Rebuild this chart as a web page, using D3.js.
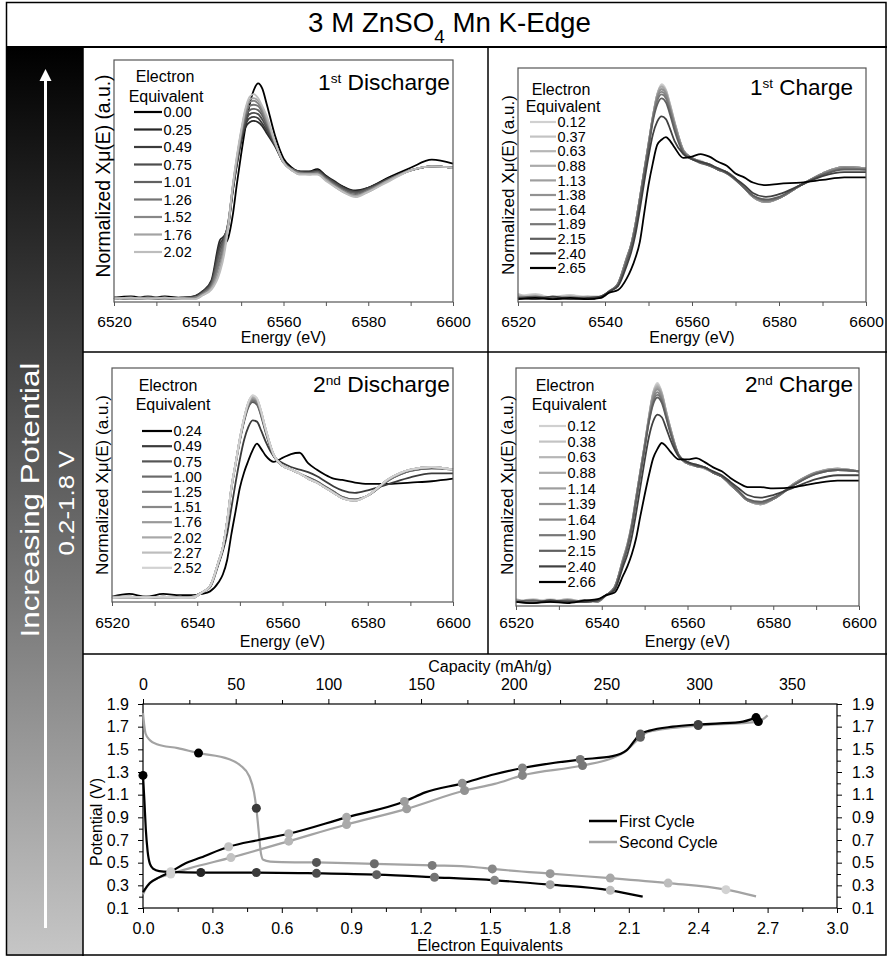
<!DOCTYPE html>
<html><head><meta charset="utf-8">
<script src="https://cdn.jsdelivr.net/npm/d3@7/dist/d3.min.js"></script>
<style>
html,body{margin:0;padding:0;background:#fff;}
svg{display:block;}
text{font-family:"Liberation Sans",Arial,sans-serif;fill:#000;}
</style></head>
<body>
<svg id="fig" width="887" height="956"></svg>
<script>
// ---------- XANES spectra: energy grid (eV) ----------
const energyEV = [6520,6524,6528,6532,6536,6539,6541,6543,6545,6546,6547,6548,6549,6550,6551,6552,6553,6554,6555,6556,6558,6560,6562,6564,6566,6568,6570,6572,6574,6577,6580,6585,6590,6595,6600];
const energyTicks = [6520,6540,6560,6580,6600];
const energyMinorTicks = [6530,6550,6570,6590];

// 1st discharge
const discharge1Labels = ["0.00","0.25","0.49","0.75","1.01","1.26","1.52","1.76","2.02"];
const discharge1Spectra = [
 [0.01,0.02,0.00,0.02,0.01,0.02, 0.05,0.09,0.30,0.40,0.46,0.62,0.86,1.08,1.28,1.45,1.56,1.61,1.57,1.46,1.22,1.05,0.98,0.95,0.95,0.97,0.92,0.87,0.84,0.80,0.83,0.91,0.98,1.04,1.01],
 [0.01,0.00,0.02,0.00,0.01,0.02, 0.06,0.14,0.44,0.47,0.55,0.80,1.00,1.17,1.28,1.32,1.33,1.32,1.29,1.24,1.14,1.02,0.97,0.95,0.95,0.96,0.92,0.88,0.84,0.81,0.83,0.90,0.96,0.99,0.98],
 [0.00,0.01,0.00,0.01,0.00,0.02, 0.06,0.13,0.41,0.46,0.56,0.80,1.01,1.19,1.30,1.35,1.36,1.35,1.31,1.26,1.15,1.02,0.97,0.95,0.95,0.96,0.91,0.87,0.83,0.80,0.83,0.90,0.96,0.99,0.98],
 [0.01,0.00,0.01,0.00,0.01,0.01, 0.05,0.12,0.38,0.45,0.57,0.81,1.02,1.20,1.32,1.38,1.39,1.38,1.34,1.28,1.15,1.02,0.97,0.95,0.94,0.95,0.91,0.87,0.83,0.80,0.82,0.90,0.96,0.99,0.98],
 [0.00,0.01,0.00,0.00,0.01,0.01, 0.05,0.11,0.35,0.44,0.58,0.82,1.03,1.22,1.35,1.41,1.42,1.41,1.37,1.30,1.16,1.02,0.97,0.94,0.94,0.95,0.90,0.86,0.82,0.79,0.82,0.89,0.96,0.99,0.98],
 [0.01,0.00,0.01,0.01,0.00,0.01, 0.04,0.10,0.31,0.42,0.58,0.83,1.04,1.23,1.37,1.44,1.45,1.44,1.39,1.32,1.16,1.02,0.97,0.94,0.94,0.94,0.90,0.85,0.81,0.78,0.81,0.89,0.96,0.99,0.98],
 [0.00,0.01,0.00,0.01,0.00,0.01, 0.04,0.09,0.27,0.39,0.57,0.83,1.05,1.24,1.39,1.47,1.48,1.46,1.41,1.33,1.17,1.02,0.96,0.94,0.93,0.94,0.89,0.85,0.81,0.77,0.81,0.89,0.96,0.99,0.98],
 [0.01,0.00,0.01,0.00,0.01,0.00, 0.03,0.08,0.23,0.36,0.56,0.84,1.06,1.25,1.41,1.49,1.50,1.48,1.43,1.35,1.17,1.02,0.96,0.93,0.93,0.93,0.89,0.84,0.80,0.77,0.80,0.89,0.96,0.99,0.98],
 [0.00,0.01,0.00,0.01,0.00,0.00, 0.03,0.07,0.20,0.33,0.55,0.84,1.07,1.26,1.42,1.51,1.53,1.50,1.44,1.37,1.17,1.02,0.96,0.93,0.93,0.93,0.88,0.84,0.80,0.76,0.80,0.88,0.96,0.99,0.98]
];

// 1st charge
const charge1Labels = ["0.12","0.37","0.63","0.88","1.13","1.38","1.64","1.89","2.15","2.40","2.65"];
const charge1Spectra = [
 [0.02,0.04,0.01,0.03,0.02,0.02, 0.06,0.12,0.32,0.42,0.58,0.78,0.99,1.20,1.41,1.58,1.66,1.62,1.50,1.37,1.15,1.09,1.06,1.04,1.00,0.98,0.93,0.86,0.79,0.75,0.78,0.88,0.97,1.02,1.01],
 [0.04,0.01,0.02,0.03,0.01,0.02, 0.06,0.12,0.32,0.42,0.58,0.78,0.99,1.20,1.41,1.58,1.65,1.61,1.50,1.37,1.15,1.08,1.07,1.03,1.01,0.97,0.93,0.86,0.79,0.75,0.78,0.88,0.97,1.02,1.01],
 [0.01,0.03,0.00,0.02,0.01,0.02, 0.06,0.12,0.32,0.42,0.58,0.78,0.99,1.20,1.41,1.58,1.64,1.61,1.49,1.36,1.15,1.09,1.05,1.04,1.00,0.98,0.92,0.86,0.79,0.75,0.78,0.88,0.97,1.02,1.01],
 [0.03,0.01,0.02,0.01,0.00,0.02, 0.06,0.12,0.32,0.42,0.58,0.78,0.99,1.20,1.41,1.58,1.64,1.60,1.49,1.36,1.15,1.09,1.06,1.03,1.01,0.98,0.93,0.86,0.79,0.75,0.78,0.88,0.97,1.02,1.01],
 [0.00,0.02,0.01,0.00,0.02,0.02, 0.06,0.12,0.32,0.42,0.58,0.78,0.99,1.20,1.41,1.57,1.62,1.59,1.48,1.36,1.15,1.08,1.06,1.04,1.00,0.97,0.93,0.86,0.79,0.75,0.78,0.88,0.97,1.02,1.01],
 [0.01,0.02,0.00,0.01,0.02,0.01, 0.06,0.12,0.32,0.42,0.58,0.78,0.99,1.19,1.40,1.56,1.62,1.59,1.47,1.35,1.15,1.09,1.06,1.04,1.00,0.98,0.93,0.86,0.79,0.75,0.78,0.88,0.97,1.02,1.01],
 [0.02,0.00,0.01,0.02,0.00,0.02, 0.06,0.12,0.31,0.42,0.57,0.77,0.98,1.19,1.40,1.55,1.60,1.57,1.46,1.34,1.14,1.09,1.06,1.04,1.00,0.98,0.93,0.86,0.79,0.76,0.78,0.88,0.97,1.01,1.00],
 [0.00,0.01,0.02,0.00,0.01,0.01, 0.06,0.12,0.31,0.41,0.57,0.77,0.98,1.18,1.39,1.53,1.58,1.55,1.45,1.33,1.14,1.09,1.06,1.03,1.00,0.98,0.93,0.86,0.80,0.76,0.78,0.88,0.96,1.01,1.00],
 [0.01,0.02,0.00,0.01,0.00,0.02, 0.06,0.11,0.29,0.40,0.55,0.75,0.96,1.16,1.37,1.50,1.55,1.52,1.42,1.30,1.13,1.08,1.05,1.03,1.00,0.97,0.92,0.86,0.80,0.77,0.79,0.88,0.96,1.00,1.00],
 [0.01,0.00,0.02,0.00,0.01,0.02, 0.06,0.10,0.26,0.36,0.50,0.69,0.90,1.10,1.27,1.37,1.41,1.39,1.31,1.22,1.12,1.08,1.06,1.04,1.01,0.98,0.93,0.88,0.82,0.79,0.81,0.88,0.95,0.98,0.98],
 [0.00,0.01,0.00,0.01,0.00,0.01, 0.05,0.07,0.16,0.23,0.32,0.44,0.66,0.88,1.05,1.19,1.23,1.25,1.22,1.17,1.09,1.10,1.12,1.10,1.06,1.03,0.97,0.94,0.90,0.88,0.89,0.90,0.92,0.94,0.94]
];

// 2nd discharge
const discharge2Labels = ["0.24","0.49","0.75","1.00","1.25","1.51","1.76","2.02","2.27","2.52"];
const discharge2Spectra = [
 [0.02,0.04,0.02,0.04,0.03,0.03, 0.04,0.06,0.13,0.19,0.30,0.50,0.68,0.86,0.98,1.07,1.15,1.20,1.16,1.11,1.06,1.09,1.12,1.13,1.05,1.00,0.96,0.93,0.92,0.90,0.89,0.89,0.90,0.91,0.93],
 [0.01,0.02,0.01,0.02,0.01,0.02, 0.05,0.09,0.27,0.37,0.50,0.70,0.90,1.08,1.23,1.33,1.38,1.37,1.30,1.22,1.10,1.05,1.02,1.00,0.98,0.95,0.91,0.87,0.84,0.82,0.84,0.89,0.94,0.97,0.97],
 [0.01,0.01,0.02,0.01,0.01,0.02, 0.05,0.10,0.29,0.40,0.60,0.85,1.04,1.22,1.37,1.48,1.52,1.50,1.41,1.29,1.10,1.03,1.00,0.97,0.94,0.91,0.87,0.83,0.79,0.77,0.80,0.92,0.99,1.01,1.00],
 [0.02,0.01,0.01,0.02,0.01,0.01, 0.05,0.10,0.29,0.40,0.60,0.85,1.04,1.23,1.38,1.49,1.53,1.51,1.42,1.30,1.10,1.03,1.00,0.97,0.94,0.91,0.87,0.83,0.79,0.77,0.80,0.92,0.99,1.01,1.00],
 [0.01,0.02,0.01,0.01,0.02,0.01, 0.05,0.10,0.29,0.40,0.60,0.85,1.05,1.23,1.39,1.50,1.54,1.52,1.43,1.31,1.11,1.03,1.00,0.97,0.93,0.90,0.86,0.82,0.78,0.76,0.80,0.92,1.00,1.02,1.00],
 [0.02,0.01,0.02,0.01,0.01,0.02, 0.05,0.10,0.29,0.40,0.60,0.86,1.05,1.24,1.39,1.51,1.55,1.53,1.44,1.31,1.11,1.03,1.00,0.97,0.93,0.90,0.86,0.82,0.78,0.76,0.80,0.93,1.00,1.02,1.00],
 [0.01,0.01,0.01,0.02,0.01,0.01, 0.05,0.10,0.29,0.40,0.60,0.86,1.05,1.24,1.40,1.51,1.55,1.54,1.44,1.32,1.11,1.03,1.00,0.97,0.93,0.90,0.86,0.82,0.78,0.76,0.80,0.93,1.00,1.02,1.00],
 [0.02,0.02,0.01,0.01,0.02,0.01, 0.05,0.10,0.29,0.40,0.60,0.86,1.05,1.24,1.40,1.52,1.56,1.54,1.45,1.32,1.11,1.03,1.00,0.97,0.93,0.90,0.86,0.82,0.78,0.76,0.80,0.93,1.00,1.02,1.00],
 [0.01,0.01,0.02,0.01,0.01,0.02, 0.05,0.10,0.29,0.40,0.60,0.86,1.05,1.24,1.40,1.52,1.57,1.55,1.45,1.32,1.11,1.03,1.00,0.97,0.93,0.90,0.86,0.82,0.78,0.76,0.80,0.93,1.00,1.02,1.00],
 [0.01,0.02,0.01,0.02,0.01,0.01, 0.05,0.10,0.29,0.40,0.60,0.86,1.05,1.24,1.40,1.52,1.575,1.55,1.45,1.32,1.11,1.03,1.00,0.97,0.93,0.90,0.86,0.82,0.78,0.76,0.80,0.93,1.00,1.02,1.00]
];

// 2nd charge
const charge2Labels = ["0.12","0.38","0.63","0.88","1.14","1.39","1.64","1.90","2.15","2.40","2.66"];
const charge2Spectra = [
 [0.02,0.01,0.03,0.01,0.02,0.02, 0.06,0.12,0.34,0.45,0.60,0.80,1.00,1.20,1.42,1.60,1.67,1.60,1.46,1.33,1.12,1.06,1.04,1.03,0.99,0.96,0.90,0.84,0.78,0.75,0.79,0.91,0.995,1.02,1.00],
 [0.01,0.03,0.01,0.02,0.01,0.02, 0.06,0.12,0.34,0.45,0.60,0.80,1.00,1.20,1.42,1.60,1.66,1.60,1.46,1.33,1.12,1.06,1.05,1.02,0.99,0.96,0.90,0.84,0.78,0.75,0.79,0.91,0.99,1.02,1.00],
 [0.03,0.01,0.02,0.01,0.02,0.02, 0.06,0.12,0.34,0.45,0.60,0.80,1.00,1.20,1.41,1.59,1.65,1.59,1.46,1.33,1.12,1.06,1.04,1.03,0.99,0.96,0.90,0.84,0.78,0.75,0.79,0.91,0.99,1.02,1.00],
 [0.01,0.02,0.01,0.03,0.01,0.02, 0.06,0.12,0.34,0.45,0.60,0.80,1.00,1.20,1.41,1.59,1.64,1.59,1.45,1.33,1.12,1.07,1.04,1.03,0.99,0.96,0.90,0.84,0.78,0.75,0.79,0.91,0.99,1.02,1.00],
 [0.02,0.01,0.02,0.01,0.02,0.01, 0.06,0.12,0.33,0.44,0.59,0.79,1.00,1.20,1.41,1.58,1.63,1.58,1.45,1.32,1.12,1.06,1.04,1.02,0.99,0.96,0.90,0.84,0.78,0.75,0.79,0.91,0.99,1.02,1.00],
 [0.01,0.02,0.01,0.02,0.01,0.02, 0.06,0.12,0.33,0.44,0.59,0.79,1.00,1.19,1.40,1.57,1.62,1.57,1.44,1.32,1.12,1.06,1.04,1.03,0.99,0.96,0.90,0.84,0.78,0.76,0.79,0.91,0.99,1.01,1.00],
 [0.02,0.01,0.02,0.01,0.01,0.02, 0.06,0.12,0.33,0.44,0.59,0.79,0.99,1.19,1.39,1.55,1.60,1.55,1.43,1.31,1.12,1.07,1.04,1.03,0.99,0.96,0.90,0.84,0.78,0.76,0.79,0.90,0.99,1.01,1.00],
 [0.01,0.01,0.02,0.01,0.02,0.01, 0.06,0.12,0.32,0.43,0.58,0.78,0.98,1.18,1.38,1.53,1.58,1.54,1.42,1.30,1.12,1.06,1.05,1.03,0.99,0.96,0.90,0.84,0.78,0.76,0.79,0.90,0.98,1.01,1.00],
 [0.01,0.02,0.01,0.02,0.01,0.02, 0.06,0.11,0.31,0.42,0.57,0.77,0.97,1.17,1.37,1.51,1.56,1.52,1.41,1.29,1.12,1.07,1.04,1.03,0.99,0.96,0.91,0.85,0.79,0.77,0.80,0.90,0.98,1.01,1.00],
 [0.01,0.00,0.02,0.01,0.01,0.02, 0.06,0.10,0.28,0.37,0.50,0.68,0.88,1.08,1.26,1.38,1.43,1.41,1.33,1.24,1.11,1.07,1.05,1.03,1.00,0.97,0.92,0.87,0.82,0.80,0.82,0.88,0.94,0.97,0.97],
 [0.01,0.00,0.01,0.00,0.02,0.03, 0.06,0.08,0.21,0.28,0.37,0.49,0.66,0.82,0.97,1.10,1.17,1.215,1.19,1.15,1.09,1.09,1.10,1.07,1.03,1.00,0.95,0.91,0.88,0.88,0.87,0.88,0.91,0.93,0.93]
];

// ---------- cycling curve: electron equivalents vs potential (V) ----------
const cycle1DischargeE = [0,0.006,0.012,0.02,0.03,0.045,0.07,0.12,0.25,0.49,0.75,1.01,1.26,1.52,1.76,2.02,2.16];
const cycle1DischargeV = [1.27,1.05,0.80,0.60,0.49,0.445,0.425,0.418,0.413,0.413,0.406,0.394,0.371,0.344,0.306,0.256,0.20];
const cycle1ChargeE = [0,0.03,0.07,0.12,0.18,0.25,0.37,0.50,0.63,0.88,1.13,1.22,1.38,1.52,1.64,1.89,2.03,2.09,2.15,2.19,2.29,2.40,2.58,2.65];
const cycle1ChargeV = [0.24,0.32,0.37,0.42,0.49,0.545,0.64,0.70,0.755,0.90,1.04,1.12,1.20,1.28,1.335,1.41,1.44,1.49,1.635,1.665,1.70,1.72,1.74,1.78];
const cycle2DischargeE = [0,0.005,0.011,0.03,0.06,0.15,0.24,0.37,0.42,0.46,0.48,0.49,0.50,0.51,0.52,0.55,0.60,0.75,1.00,1.25,1.43,1.51,1.76,2.02,2.27,2.52,2.65];
const cycle2DischargeV = [1.82,1.72,1.64,1.58,1.545,1.51,1.467,1.415,1.36,1.26,1.12,0.98,0.78,0.58,0.525,0.51,0.505,0.502,0.49,0.476,0.462,0.445,0.403,0.364,0.32,0.262,0.203];
const cycle2ChargeE = [0,0.02,0.05,0.12,0.20,0.38,0.63,0.88,1.14,1.39,1.52,1.64,1.90,2.03,2.08,2.15,2.18,2.29,2.40,2.66,2.70];
const cycle2ChargeV = [0.22,0.30,0.35,0.40,0.45,0.545,0.69,0.837,0.975,1.137,1.195,1.27,1.357,1.424,1.474,1.606,1.65,1.689,1.71,1.745,1.80];

// potential at which each spectrum was collected
const discharge1MarkerV = [1.27,0.413,0.413,0.406,0.394,0.371,0.344,0.306,0.256];
const charge1MarkerV = [0.42,0.64,0.755,0.90,1.04,1.20,1.335,1.41,1.635,1.72,1.78];
const discharge2MarkerV = [1.467,0.98,0.502,0.49,0.476,0.445,0.403,0.364,0.32,0.262];
const charge2MarkerV = [0.40,0.545,0.69,0.837,0.975,1.137,1.27,1.357,1.606,1.71,1.745];

const potentialTicks = [0.1,0.3,0.5,0.7,0.9,1.1,1.3,1.5,1.7,1.9];
const potentialMinorTicks = [0.2,0.4,0.6,0.8,1.0,1.2,1.4,1.6,1.8];
const equivTicks = [0,0.3,0.6,0.9,1.2,1.5,1.8,2.1,2.4,2.7,3.0];
const equivMinorTicks = [0.15,0.45,0.75,1.05,1.35,1.65,1.95,2.25,2.55,2.85];
const capacityTicks = [0,50,100,150,200,250,300,350];
const capacityMinorTicks = [25,75,125,175,225,275,325];
const capacityPerElectron = 124.8; // mAh/g per electron equivalent

// ---------- grey shades for each series ----------
const discharge1Colors = ["#000000","#262626","#3b3b3b","#4d4d4d","#616161","#737373","#878787","#a3a3a3","#bdbdbd"];
const charge1Colors = ["#d0d0d0","#c3c3c3","#b6b6b6","#aaaaaa","#9e9e9e","#929292","#858585","#777777","#5f5f5f","#404040","#000000"];
const discharge2Colors = ["#000000","#3a3a3a","#555555","#6a6a6a","#7a7a7a","#888888","#999999","#a8a8a8","#bdbdbd","#d2d2d2"];
const charge2Colors = ["#d0d0d0","#c3c3c3","#b6b6b6","#aaaaaa","#9e9e9e","#929292","#858585","#777777","#5f5f5f","#404040","#000000"];

const SANS = '"Liberation Sans", Arial, sans-serif';
const HUMANIST = 'Lato, "Open Sans", "Noto Sans", sans-serif';
const svg = d3.select("#fig");

function fitLength(sel, target) {
  const w = sel.node().getComputedTextLength();
  const fs = parseFloat(sel.attr("font-size"));
  sel.attr("font-size", (fs * target / w).toFixed(2));
}
// stretch a rotated label along its reading direction to a given length
function stretchRotated(sel, cx, cy, target) {
  const w = sel.node().getComputedTextLength();
  sel.attr("transform", `translate(${cx},${cy}) rotate(-90) scale(${(target / w).toFixed(3)},1)`);
}

svg.append("rect").attr("width", 887).attr("height", 956).attr("fill", "#fff");

// ---------- left potential bar ----------
const defs = svg.append("defs");
const grad = defs.append("linearGradient").attr("id", "potGrad")
  .attr("x1", 0).attr("y1", 0).attr("x2", 0).attr("y2", 1);
grad.append("stop").attr("offset", "0%").attr("stop-color", "#000");
grad.append("stop").attr("offset", "100%").attr("stop-color", "#c6c6c6");
svg.append("rect").attr("x", 7).attr("y", 47).attr("width", 76).attr("height", 909).attr("fill", "url(#potGrad)");
svg.append("line").attr("x1", 45.5).attr("x2", 45.5).attr("y1", 78).attr("y2", 928)
  .attr("stroke", "#fff").attr("stroke-width", 3);
svg.append("path").attr("d", "M45.5,69 L39.5,81 L51.5,81 Z").attr("fill", "#fff");

const incText = svg.append("text").attr("text-anchor", "middle").attr("font-size", 25)
  .style("fill", "#fff").text("Increasing Potential");
stretchRotated(incText, 39, 500, 275);
const rangeText = svg.append("text").attr("text-anchor", "middle").attr("font-size", 22)
  .style("fill", "#fff").text("0.2-1.8 V");
stretchRotated(rangeText, 74, 503, 105);

// ---------- title ----------
const title = svg.append("text").attr("x", 449.5).attr("y", 32).attr("text-anchor", "middle").attr("font-size", 24);
title.append("tspan").text("3 M ZnSO");
title.append("tspan").attr("baseline-shift", "sub").style("font-size", "68%").text("4");
title.append("tspan").text(" Mn K-Edge");
fitLength(title, 283);

// ---------- frame and dividers ----------
svg.append("rect").attr("x", 6.5).attr("y", 2.5).attr("width", 879.5).attr("height", 952.5)
  .attr("fill", "none").attr("stroke", "#000").attr("stroke-width", 1.5);
svg.append("line").attr("x1", 6).attr("x2", 887).attr("y1", 47).attr("y2", 47).attr("stroke", "#000").attr("stroke-width", 2.2);
svg.append("line").attr("x1", 83).attr("x2", 83).attr("y1", 47).attr("y2", 956).attr("stroke", "#000").attr("stroke-width", 1.5);
svg.append("line").attr("x1", 488).attr("x2", 488).attr("y1", 47).attr("y2", 654).attr("stroke", "#000").attr("stroke-width", 1.5);
svg.append("line").attr("x1", 83).attr("x2", 887).attr("y1", 352).attr("y2", 352).attr("stroke", "#000").attr("stroke-width", 1.5);
svg.append("line").attr("x1", 83).attr("x2", 887).attr("y1", 654).attr("y2", 654).attr("stroke", "#000").attr("stroke-width", 1.5);

// ---------- spectra panels ----------
function drawSpectraPanel(p) {
  const g = svg.append("g");
  const x = d3.scaleLinear().domain([6520, 6600]).range([p.x0, p.x1]);
  const y = d3.scaleLinear().domain([-0.022, 1.784]).range([p.y1, p.y0]);

  const ax = d3.axisBottom(x).tickValues(energyTicks.concat(energyMinorTicks))
    .tickSizeInner(4).tickSizeOuter(0).tickPadding(9)
    .tickFormat(d => energyTicks.includes(d) ? d : "");
  const axg = g.append("g").attr("transform", `translate(0,${p.y1})`).call(ax);
  axg.select(".domain").remove();
  axg.selectAll("line").attr("stroke", "#555");
  axg.selectAll("text").attr("font-family", SANS).attr("font-size", 15.5).attr("fill", "#000")
    .attr("dy", null).attr("y", p.tickBase - p.y1);

  const line = d3.line().x((d, i) => x(energyEV[i])).y(d => y(d)).curve(d3.curveMonotoneX);
  p.spectra.forEach((s, i) => {
    g.append("path").attr("d", line(s)).attr("fill", "none")
      .attr("stroke", p.colors[i]).attr("stroke-width", 1.8).attr("stroke-linejoin", "round");
  });

  g.append("rect").attr("x", p.x0).attr("y", p.y0).attr("width", p.x1 - p.x0).attr("height", p.y1 - p.y0)
    .attr("fill", "none").attr("stroke", "#555").attr("stroke-width", 1.2);

  g.append("text").attr("x", (p.x0 + p.x1) / 2).attr("y", p.xTitleBase).attr("text-anchor", "middle")
    .attr("font-size", 16).text("Energy (eV)");

  const yl = g.append("text").attr("transform", `translate(${p.yLabelX},${p.yLabelY}) rotate(-90)`)
    .attr("text-anchor", "middle").attr("font-size", 16).text(p.yLabel);
  fitLength(yl, p.yLabelLen);

  const tt = g.append("text").attr("x", p.titleX).attr("y", p.titleY).attr("text-anchor", "end")
    .attr("font-family", HUMANIST).attr("font-size", 24);
  tt.append("tspan").text(p.titleNum);
  tt.append("tspan").attr("baseline-shift", "super").style("font-size", "60%").text(p.titleSup);
  tt.append("tspan").text(" " + p.titleWord);
  fitLength(tt, p.titleLen);

  g.append("text").attr("x", p.headX1).attr("y", p.headY1).attr("text-anchor", "middle").attr("font-size", 16).text("Electron");
  g.append("text").attr("x", p.headX2).attr("y", p.headY2).attr("text-anchor", "middle").attr("font-size", 16).text("Equivalent");
  p.labels.forEach((lab, i) => {
    const yy = p.rowY0 + i * p.rowDy;
    g.append("line").attr("x1", p.legX0).attr("x2", p.legX1).attr("y1", yy).attr("y2", yy)
      .attr("stroke", p.colors[i]).attr("stroke-width", 2.2);
    g.append("text").attr("x", p.legX1 + 1.5).attr("y", yy).attr("dy", "0.36em").attr("font-size", 14.5).text(lab);
  });
}

drawSpectraPanel({
  x0: 114, x1: 453, y0: 60, y1: 302, tickBase: 327, xTitleBase: 343,
  spectra: discharge1Spectra, labels: discharge1Labels, colors: discharge1Colors,
  yLabel: "Normalized Xμ(E) (a.u.)", yLabelX: 110, yLabelY: 176, yLabelLen: 203,
  titleNum: "1", titleSup: "st", titleWord: "Discharge", titleX: 450, titleY: 90, titleLen: 132,
  headX1: 165, headY1: 82, headX2: 166, headY2: 102,
  rowY0: 112, rowDy: 17.5, legX0: 134, legX1: 162
});
drawSpectraPanel({
  x0: 518, x1: 866, y0: 68, y1: 302, tickBase: 327, xTitleBase: 343,
  spectra: charge1Spectra, labels: charge1Labels, colors: charge1Colors,
  yLabel: "Normalized Xμ(E)  (a.u.)", yLabelX: 514, yLabelY: 185, yLabelLen: 180,
  titleNum: "1", titleSup: "st", titleWord: "Charge", titleX: 853, titleY: 95, titleLen: 103,
  headX1: 561, headY1: 95, headX2: 563, headY2: 112,
  rowY0: 122, rowDy: 14.6, legX0: 530, legX1: 556
});
drawSpectraPanel({
  x0: 112, x1: 453, y0: 368, y1: 602, tickBase: 628, xTitleBase: 647,
  spectra: discharge2Spectra, labels: discharge2Labels, colors: discharge2Colors,
  yLabel: "Normalized Xμ(E)  (a.u.)", yLabelX: 108, yLabelY: 485, yLabelLen: 180,
  titleNum: "2", titleSup: "nd", titleWord: "Discharge", titleX: 450, titleY: 392, titleLen: 137,
  headX1: 168, headY1: 391, headX2: 173, headY2: 410,
  rowY0: 431, rowDy: 15.2, legX0: 142, legX1: 172
});
drawSpectraPanel({
  x0: 516, x1: 859, y0: 368, y1: 606, tickBase: 628, xTitleBase: 647,
  spectra: charge2Spectra, labels: charge2Labels, colors: charge2Colors,
  yLabel: "Normalized Xμ(E)  (a.u.)", yLabelX: 513, yLabelY: 485, yLabelLen: 180,
  titleNum: "2", titleSup: "nd", titleWord: "Charge", titleX: 853, titleY: 392, titleLen: 108,
  headX1: 565, headY1: 391, headX2: 569, headY2: 410,
  rowY0: 426, rowDy: 15.6, legX0: 539, legX1: 566
});

// ---------- potential vs electron equivalents ----------
(function drawCycling() {
  const L = 143, R = 837, T = 704, B = 908;
  const g = svg.append("g");
  const x = d3.scaleLinear().domain([0, 3]).range([L, R]);
  const y = d3.scaleLinear().domain([0.1, 1.9]).range([B, T]);
  const xc = d3.scaleLinear().domain([0, 3 * capacityPerElectron]).range([L, R]);

  function axis(gen, tr, major, minor, fmt, pad) {
    const a = g.append("g").attr("transform", tr)
      .call(gen.tickValues(major).tickSizeInner(5).tickSizeOuter(0).tickPadding(pad).tickFormat(fmt));
    a.select(".domain").remove();
    a.selectAll("text").attr("font-family", SANS).attr("font-size", 16).attr("fill", "#000");
    const b = g.append("g").attr("transform", tr)
      .call(gen.tickValues(minor).tickSizeInner(4).tickSizeOuter(0).tickFormat(""));
    b.select(".domain").remove();
    return a;
  }
  axis(d3.axisLeft(y), `translate(${L},0)`, potentialTicks, potentialMinorTicks, d3.format(".1f"), 9);
  axis(d3.axisRight(y), `translate(${R},0)`, potentialTicks, potentialMinorTicks, d3.format(".1f"), 10);
  axis(d3.axisBottom(x), `translate(0,${B})`, equivTicks, equivMinorTicks, d3.format(".1f"), 10);
  axis(d3.axisTop(xc), `translate(0,${T})`, capacityTicks, capacityMinorTicks, d3.format("d"), 9);

  g.append("rect").attr("x", L).attr("y", T).attr("width", R - L).attr("height", B - T)
    .attr("fill", "none").attr("stroke", "#000").attr("stroke-width", 1.2);

  const lineGen = (xs) => d3.line().x((d, i) => x(xs[i])).y(d => y(d)).curve(d3.curveMonotoneX);
  const curves = [
    [cycle2DischargeE, cycle2DischargeV, "#a3a3a3"],
    [cycle2ChargeE, cycle2ChargeV, "#a3a3a3"],
    [cycle1DischargeE, cycle1DischargeV, "#000"],
    [cycle1ChargeE, cycle1ChargeV, "#000"]
  ];
  curves.forEach(([xs, vs, c]) => {
    g.append("path").attr("d", lineGen(xs)(vs)).attr("fill", "none").attr("stroke", c).attr("stroke-width", 2.2);
  });

  const markerSets = [
    [discharge1Labels, discharge1MarkerV, discharge1Colors],
    [charge1Labels, charge1MarkerV, charge1Colors],
    [discharge2Labels, discharge2MarkerV, discharge2Colors],
    [charge2Labels, charge2MarkerV, charge2Colors]
  ];
  markerSets.forEach(([labs, vs, cols]) => {
    labs.forEach((lab, i) => {
      g.append("circle").attr("cx", x(+lab)).attr("cy", y(vs[i])).attr("r", 4.5).attr("fill", cols[i]);
    });
  });

  // legend
  [["First Cycle", "#000", 821], ["Second Cycle", "#a3a3a3", 842]].forEach(([t, c, yy]) => {
    g.append("line").attr("x1", 589).attr("x2", 617).attr("y1", yy).attr("y2", yy).attr("stroke", c).attr("stroke-width", 2.5);
    g.append("text").attr("x", 619).attr("y", yy).attr("dy", "0.36em").attr("font-size", 16).text(t);
  });

  g.append("text").attr("x", 490).attr("y", 672).attr("text-anchor", "middle").attr("font-size", 16).text("Capacity (mAh/g)");
  g.append("text").attr("x", 490).attr("y", 951).attr("text-anchor", "middle").attr("font-size", 16).text("Electron Equivalents");
  g.append("text").attr("transform", "translate(102,822) rotate(-90)").attr("text-anchor", "middle")
    .attr("font-size", 16).text("Potential (V)");
})();
</script>
</body></html>
